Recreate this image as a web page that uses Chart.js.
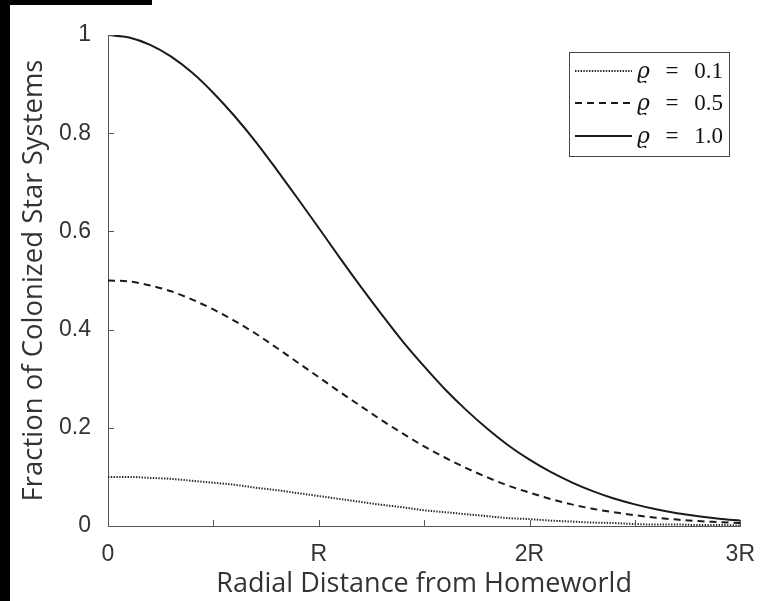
<!DOCTYPE html>
<html>
<head>
<meta charset="utf-8">
<script src="https://cdn.jsdelivr.net/npm/chart.js@4.4.1/dist/chart.umd.min.js"></script>
<style>
  html, body { margin: 0; padding: 0; background: #fff; }
  #wrap { position: relative; width: 762px; height: 601px; overflow: hidden; }
  #c { position: absolute; left: 0; top: 0; }
  .bar { position: absolute; background: #000; }
</style>
</head>
<body>
<div id="wrap">
  <canvas id="c" width="762" height="601"></canvas>
  <div class="bar" style="left:0;top:0;width:10px;height:601px;"></div>
  <div class="bar" style="left:0;top:0;width:152px;height:5px;"></div>
</div>
<script>
// ---- data ----
const radialDistance = [0.0,0.1,0.2,0.3,0.4,0.5,0.6,0.7,0.8,0.9,1.0,1.1,1.2,1.3,1.4,1.5,1.6,1.7,1.8,1.9,2.0,2.1,2.2,2.3,2.4,2.5,2.6,2.7,2.8,2.9,3.0];
const rho01 = [0.100,0.100,0.098,0.096,0.092,0.088,0.084,0.078,0.073,0.067,0.061,0.055,0.049,0.043,0.038,0.032,0.028,0.024,0.020,0.016,0.014,0.011,0.009,0.007,0.006,0.004,0.003,0.003,0.002,0.002,0.001];
const rho05 = [0.500,0.498,0.490,0.478,0.461,0.441,0.418,0.392,0.363,0.333,0.303,0.273,0.244,0.215,0.188,0.162,0.139,0.118,0.099,0.082,0.068,0.055,0.044,0.035,0.028,0.022,0.017,0.013,0.010,0.008,0.006];
const rho10 = [1.000,0.995,0.980,0.956,0.923,0.882,0.835,0.783,0.726,0.667,0.607,0.546,0.487,0.430,0.375,0.325,0.278,0.236,0.198,0.164,0.135,0.110,0.089,0.071,0.056,0.044,0.034,0.026,0.020,0.015,0.011];
const seriesLabels = ['\u03F1 = 0.1', '\u03F1 = 0.5', '\u03F1 = 1.0'];
const xTickValues = [0, 1, 2, 3];
const xTickLabels = ['0', 'R', '2R', '3R'];
const yTickLabels = ['0', '0.2', '0.4', '0.6', '0.8', '1'];
const xTitle = 'Radial Distance from Homeworld';
const yTitle = 'Fraction of Colonized Star Systems';

const toPts = (ys) => radialDistance.map((x, i) => ({ x: x, y: ys[i] }));

const styles = [
  { dash: [1.4, 1.4], width: 2, color: '#2a2a2a' },
  { dash: [7, 5], width: 2, color: '#1a1a1a' },
  { dash: [], width: 2, color: '#1a1a1a' }
];

// inward tick marks
const inwardTicks = {
  id: 'inwardTicks',
  afterDatasetsDraw(chart) {
    const { ctx, chartArea: a, scales: { x, y } } = chart;
    ctx.save();
    ctx.strokeStyle = '#555';
    ctx.lineWidth = 1;
    ctx.beginPath();
    x.ticks.forEach(t => {
      const px = Math.round(x.getPixelForValue(t.value)) + 0.5;
      ctx.moveTo(px, a.bottom);
      ctx.lineTo(px, a.bottom - 6);
    });
    y.ticks.forEach(t => {
      const py = Math.round(y.getPixelForValue(t.value)) + 0.5;
      ctx.moveTo(a.left, py);
      ctx.lineTo(a.left + 6, py);
    });
    ctx.stroke();
    ctx.restore();
  }
};

// legend box inside the plot (top-right)
const boxLegend = {
  id: 'boxLegend',
  afterDraw(chart) {
    const { ctx } = chart;
    const left = 569, top = 52, w = 160, h = 104;
    ctx.save();
    ctx.fillStyle = '#fff';
    ctx.fillRect(left, top, w, h);
    ctx.strokeStyle = '#444';
    ctx.lineWidth = 1;
    ctx.strokeRect(left + 0.5, top + 0.5, w, h);
    const rows = [71, 103, 136];
    chart.data.datasets.forEach((ds, i) => {
      const st = styles[i];
      ctx.beginPath();
      ctx.setLineDash(st.dash);
      ctx.lineWidth = st.width;
      ctx.strokeStyle = st.color;
      ctx.moveTo(575, rows[i]);
      ctx.lineTo(632, rows[i]);
      ctx.stroke();
      ctx.setLineDash([]);
      ctx.fillStyle = '#111';
      ctx.textBaseline = 'middle';
      const parts = ds.label.split(' ');
      ctx.textAlign = 'left';
      ctx.font = 'italic 22px "DejaVu Serif", "Liberation Serif", serif';
      ctx.fillText(parts[0], 637, rows[i] + 1);
      ctx.font = '23px "Liberation Serif", "DejaVu Serif", serif';
      ctx.textAlign = 'center';
      ctx.fillText(parts[1], 672, rows[i] + 1);
      ctx.textAlign = 'right';
      ctx.fillText(parts[2], 723, rows[i] + 1);
    });
    ctx.restore();
  }
};

new Chart(document.getElementById('c'), {
  type: 'line',
  data: {
    datasets: [rho01, rho05, rho10].map((ys, i) => ({
      label: seriesLabels[i],
      data: toPts(ys),
      borderColor: styles[i].color,
      borderWidth: styles[i].width,
      borderDash: styles[i].dash,
      pointRadius: 0,
      fill: false,
      cubicInterpolationMode: 'monotone'
    }))
  },
  options: {
    responsive: false,
    animation: false,
    layout: { padding: { left: 0, right: 19, top: 35, bottom: 0 } },
    plugins: { legend: { display: false }, tooltip: { enabled: false } },
    scales: {
      x: {
        type: 'linear', min: 0, max: 3,
        afterBuildTicks(s) {
          const vals = [0, 0.5, 1, 1.5, 2, 2.5, 3];
          s.ticks = vals.map(v => ({ value: v }));
        },
        afterFit(s) { s.height = 75; },
        grid: { display: false },
        border: { display: true, color: '#555', width: 1 },
        ticks: {
          autoSkip: false, maxRotation: 0, padding: 7,
          color: '#333',
          font: { family: '"Liberation Sans", Arial, sans-serif', size: 23 },
          callback(v) {
            const k = xTickValues.indexOf(v);
            return k >= 0 ? xTickLabels[k] : '';
          }
        },
        title: {
          display: true, text: xTitle, color: '#333',
          font: { family: '"Open Sans", sans-serif', size: 27 },
          padding: { top: 0, bottom: 0 }
        }
      },
      y: {
        type: 'linear', min: 0, max: 1,
        afterBuildTicks(s) {
          s.ticks = [0, 0.2, 0.4, 0.6, 0.8, 1].map(v => ({ value: v }));
        },
        afterFit(s) { s.width = 108; },
        grid: { display: false },
        border: { display: true, color: '#555', width: 1 },
        ticks: {
          padding: 9, color: '#333',
          font: { family: '"Liberation Sans", Arial, sans-serif', size: 23 },
          callback(v) {
            const k = Math.round(v * 5);
            return yTickLabels[k];
          }
        },
        title: {
          display: true, text: yTitle, color: '#333',
          font: { family: '"Open Sans", sans-serif', size: 27.5 },
          padding: { top: 18, bottom: 4 }
        }
      }
    }
  },
  plugins: [inwardTicks, boxLegend]
});
</script>
</body>
</html>
